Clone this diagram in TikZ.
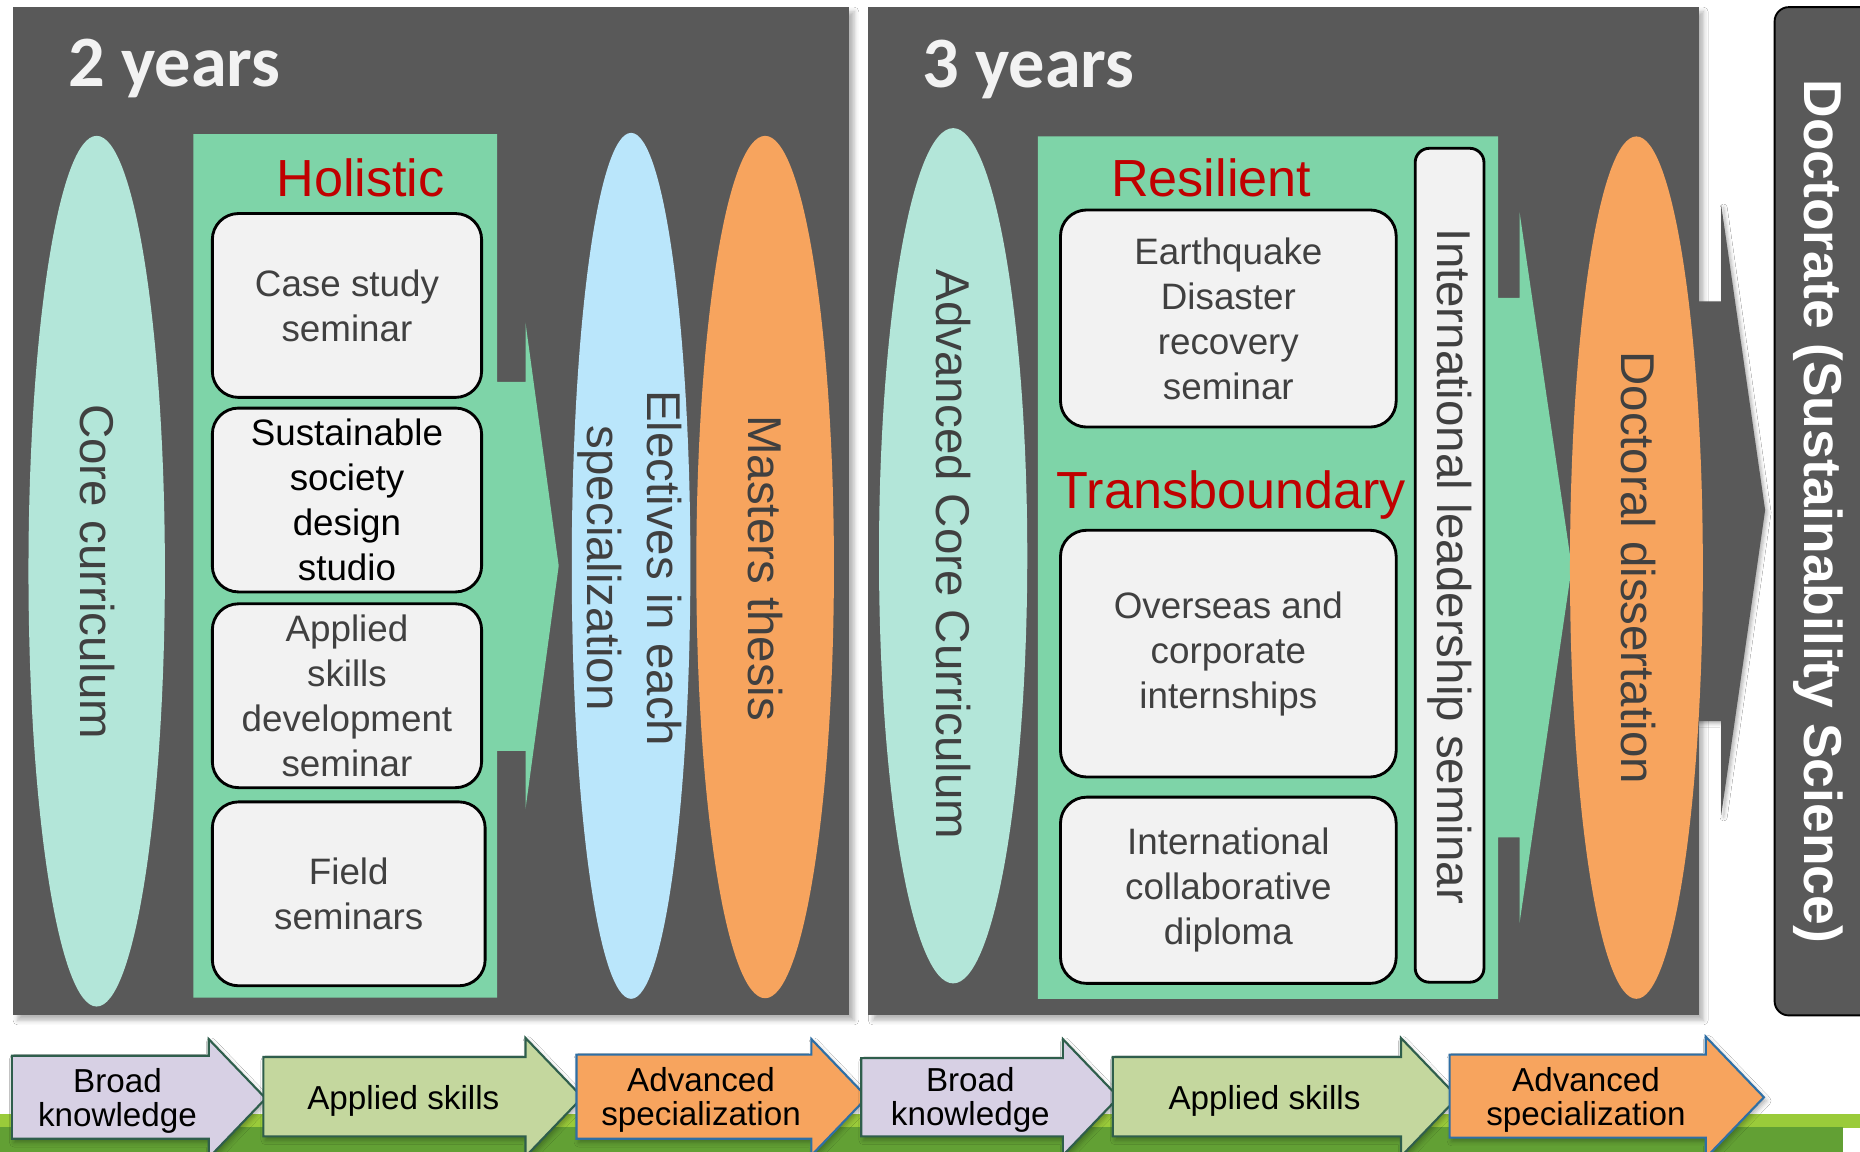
\documentclass[tikz,border=0pt]{standalone}
\usepackage{fontspec}
\setmainfont{Liberation Sans}
\newfontfamily\carlito{Carlito}
\usetikzlibrary{shapes.geometric,shadows.blur}
\definecolor{panelgray}{HTML}{595959}
\definecolor{cmint}{HTML}{7ED4A8}
\definecolor{cteal}{HTML}{B3E6D9}
\definecolor{cblue}{HTML}{BAE6FB}
\definecolor{corange}{HTML}{F7A45E}
\definecolor{cbox}{HTML}{F2F2F2}
\definecolor{ctext}{HTML}{404040}
\definecolor{cred}{HTML}{C00000}
\definecolor{clav}{HTML}{D7D0E4}
\definecolor{capp}{HTML}{C4D79E}
\definecolor{cdkgreen}{HTML}{2F5E4C}
\definecolor{cblueline}{HTML}{2F6FA5}
\definecolor{cbarA}{HTML}{9ACB3A}
\definecolor{cbarB}{HTML}{62A034}
\begin{document}
\begin{tikzpicture}[x=0.5pt,y=-0.5pt,
  panel/.style={fill=panelgray, blur shadow={shadow xshift=2pt, shadow yshift=-2pt, shadow blur radius=2pt, shadow opacity=30}},
  box/.style={draw=black, line width=1.2pt, fill=cbox, rounded corners=11pt, text=ctext, align=center, font=\fontsize{15.5}{19}\selectfont, inner sep=0pt},
  oval/.style={ellipse, inner sep=0pt, draw=none},
  vtext/.style={rotate=-90, text=ctext, font=\fontsize{20}{25}\selectfont, align=center, inner sep=0pt},
  heading/.style={text=cred, font=\fontsize{22}{26}\selectfont, anchor=base, inner sep=0pt},
  years/.style={text=cbox, font=\carlito\bfseries\fontsize{30.5}{36}\selectfont, anchor=base west, inner sep=0pt},
  stagearrow/.style={line width=0.9pt, line join=miter, blur shadow={shadow xshift=1pt, shadow yshift=-1.5pt, shadow blur radius=2pt, shadow opacity=30}},
  stagetext/.style={font=\fontsize{14}{14.5}\selectfont, align=center, text=black, inner sep=0pt}
]
\useasboundingbox (0,0) rectangle (1568,971);
\fill[white] (0,0) rectangle (1568,971);

% bottom green bar
\fill[cbarA] (0,939) rectangle (1568,951);
\fill[cbarB] (0,950) rectangle (1554,971);

% panels
\fill[panel] (11,6) rectangle (716,856);
\fill[panel] (732,6) rectangle (1432,856);
\fill[panelgray, blur shadow={shadow xshift=1pt, shadow yshift=-1pt, shadow blur radius=1.5pt, shadow opacity=30}]
  (1428,254) -- (1451,254) -- (1451,173) -- (1488,430) -- (1451,687) -- (1451,608) -- (1428,608) -- cycle;
\fill[panelgray] (1420,250) rectangle (1432,612);
\draw[fill=panelgray, draw=black, line width=0.8pt, rounded corners=6pt] (1496,6) rectangle (1620,856);
\node[rotate=-90, text=white, font=\bfseries\fontsize{22.5}{27}\selectfont, inner sep=0pt] (doctxt) at (1533,431) {Doctorate (Sustainability Science)};

\node[years] (y2) at (57,73) {2 years};
\node[years] (y3) at (777,74) {3 years};

% green arrow shapes
\fill[cmint] (163,113) -- (419,113) -- (419,322) -- (443,322) -- (443,272) -- (471,477) -- (443,682) -- (443,633) -- (419,633) -- (419,841) -- (163,841) -- cycle;
\fill[cmint] (875,115) -- (1263,115) -- (1263,251) -- (1281,251) -- (1281,179) -- (1325,478) -- (1281,778) -- (1281,706) -- (1263,706) -- (1263,842) -- (875,842) -- cycle;

% ellipses
\node[oval, fill=cteal, minimum width=57.5pt, minimum height=367pt] (core) at (81.5,481.5) {};
\node[vtext] (coret) at (82,482) {Core curriculum};
\node[oval, fill=cblue, minimum width=50pt, minimum height=365pt] (elec) at (532,477) {};
\node[vtext] (elect) at (531,479) {Electives in each\\specialization};
\node[oval, fill=corange, minimum width=58pt, minimum height=363.5pt] (mast) at (645,478) {};
\node[vtext] (mastt) at (645,479) {Masters thesis};
\node[oval, fill=cteal, minimum width=62.5pt, minimum height=360.5pt] (acore) at (803.5,468.5) {};
\node[vtext] (acoret) at (804,467.5) {Advanced Core Curriculum};
\node[oval, fill=corange, minimum width=56pt, minimum height=363.5pt] (doct) at (1379.5,478.5) {};
\node[vtext] (doctt) at (1381,478.5) {Doctoral dissertation};

% headings
\node[heading] (hol) at (304,166) {Holistic};
\node[heading] (res) at (1021,166) {Resilient};
\node[heading] (trans) at (1038,429) {Transboundary};

% left boxes
\node[box, minimum width=113.5pt, minimum height=77.5pt] (b1) at (292.5,257.5) {Case study\\seminar};
\node[box, minimum width=113.5pt, minimum height=77.5pt, text=black] (b2) at (292.5,421.5) {Sustainable\\society\\design\\studio};
\node[box, minimum width=113.5pt, minimum height=77.5pt] (b3) at (292.5,586.5) {Applied\\skills\\development\\seminar};
\node[box, minimum width=115pt, minimum height=77.5pt] (b4) at (294,753.5) {Field\\seminars};

% right boxes
\node[box, minimum width=141.5pt, minimum height=91.5pt] (r1) at (1035.5,268.5) {Earthquake\\Disaster\\recovery\\seminar};
\node[box, minimum width=141.5pt, minimum height=104pt] (r2) at (1035.5,551) {\raisebox{-3pt}{\parbox{140pt}{\centering Overseas and\\corporate\\internships}}};
\node[box, minimum width=141.5pt, minimum height=78.5pt] (r3) at (1035.5,750.5) {International\\collaborative\\diploma};
\node[box, rounded corners=6pt, minimum width=29pt, minimum height=351.5pt] (tall) at (1222,476.5) {};
\node[vtext] (tallt) at (1222,477.5) {International leadership seminar};

% bottom stage arrows
\draw[stagearrow, fill=clav, draw=cdkgreen] (10,890) -- (176,890) -- (176,876) -- (224,926) -- (176,976) -- (176,960) -- (10,960) -- cycle;
\node[stagetext] (s1) at (99,928) {Broad\\knowledge};
\draw[stagearrow, fill=capp, draw=cdkgreen] (222,891) -- (443,891) -- (443,875) -- (491,925) -- (443,975) -- (443,958) -- (222,958) -- cycle;
\node[stagetext] (s2) at (340,928) {Applied skills};
\draw[stagearrow, fill=corange, draw=cblueline] (486,889) -- (684,889) -- (684,876) -- (731,925) -- (684,974) -- (684,960) -- (486,960) -- cycle;
\node[stagetext] (s3) at (591,927) {Advanced\\specialization};
\draw[stagearrow, fill=clav, draw=cdkgreen] (726,892) -- (896,892) -- (896,876) -- (943,925) -- (896,974) -- (896,958) -- (726,958) -- cycle;
\node[stagetext] (s4) at (818,927) {Broad\\knowledge};
\draw[stagearrow, fill=capp, draw=cdkgreen] (938,891) -- (1181,891) -- (1181,875) -- (1229,925) -- (1181,975) -- (1181,958) -- (938,958) -- cycle;
\node[stagetext] (s5) at (1066,928) {Applied skills};
\draw[stagearrow, fill=corange, draw=cblueline] (1222,889) -- (1438,889) -- (1438,874) -- (1487,925) -- (1438,976) -- (1438,959) -- (1222,959) -- cycle;
\node[stagetext] (s6) at (1337,927) {Advanced\\specialization};
\end{tikzpicture}
\end{document}
